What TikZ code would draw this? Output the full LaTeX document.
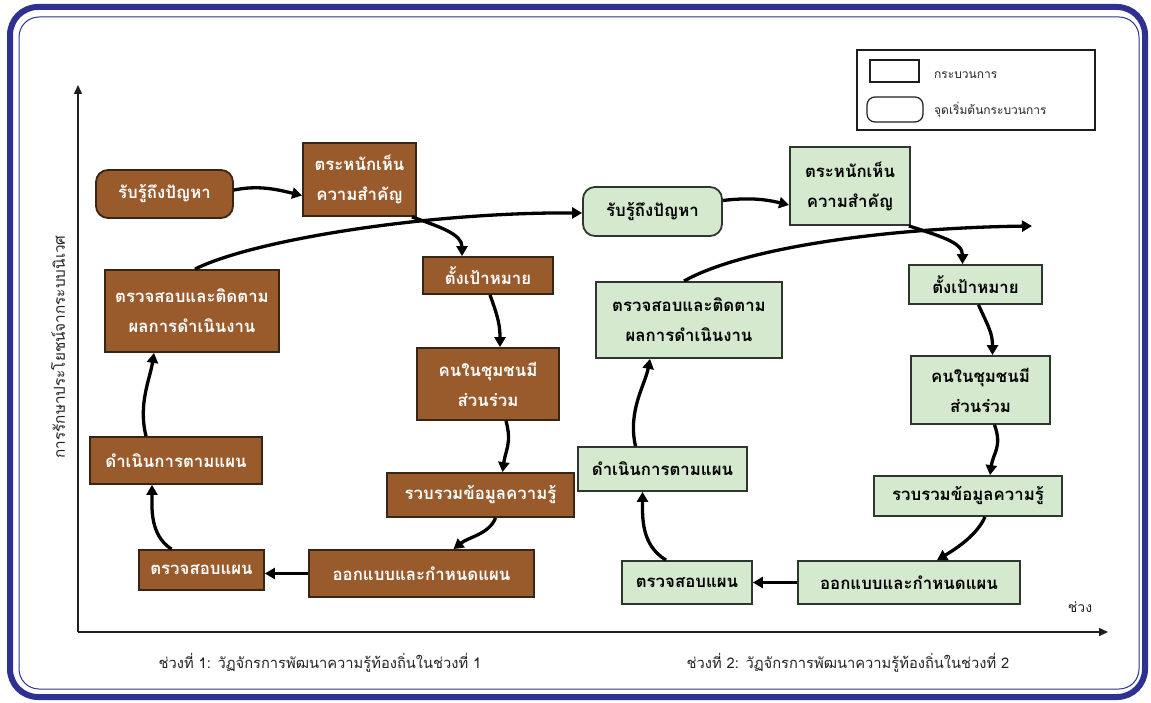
\documentclass[tikz,border=0pt]{standalone}
\usepackage{fontspec}
\newfontfamily\thaifont[Script=Thai]{Loma}
\usetikzlibrary{arrows.meta,calc}
\definecolor{navy}{RGB}{46,49,146}
\definecolor{brownfill}{RGB}{153,90,44}
\definecolor{browndraw}{RGB}{55,38,22}
\definecolor{greenfill}{RGB}{213,233,207}
\definecolor{greendraw}{RGB}{45,55,45}
\definecolor{axisc}{RGB}{30,30,30}
\definecolor{labelc}{RGB}{35,35,35}
\begin{document}
\begin{tikzpicture}[x=1pt,y=-1pt,
  boxfont/.style={font=\thaifont\bfseries\fontsize{16.8}{30}\selectfont},
  bbox/.style={boxfont, draw=browndraw, line width=1.8pt, fill=brownfill, text=white, align=center, inner sep=0pt},
  gbox/.style={boxfont, draw=greendraw, line width=1.8pt, fill=greenfill, text=black, align=center, inner sep=0pt},
  flow/.style={line width=3.3pt, -{Triangle[length=10pt,width=11pt]}},
  axisline/.style={draw=axisc, line width=1.5pt, -{Triangle[length=9pt,width=8pt]}},
  legtext/.style={font=\thaifont\fontsize{12}{14}\selectfont, text=labelc, anchor=west, inner sep=0pt},
  caption/.style={font=\thaifont\fontsize{14.7}{17}\selectfont, text=labelc, inner sep=0pt}
]
\useasboundingbox (0,0) rectangle (1151,703);
\fill[white] (0,0) rectangle (1151,703);
% frame
\draw[navy, line width=6pt, rounded corners=28] (10,7) rectangle (1145,697);
\draw[navy, line width=1pt, rounded corners=20] (19,17) rectangle (1139,689);

% axes
\coordinate (o) at (78,632);
\coordinate (ytop) at (78,85);
\coordinate (xend) at (1108,632);
\draw[axisline] (o) -- (ytop);
\draw[axisline] (o) -- (xend);
\node[font=\thaifont\fontsize{15.3}{17}\selectfont, text=labelc, rotate=90] (ylab) at (58,347) {การรักษาประโยชน์จากระบบนิเวศ};
\node[font=\thaifont\fontsize{14}{16}\selectfont, text=labelc] (xlab) at (1080,607) {ช่วง};

% legend
\node[draw=axisc, fill=white, line width=1.2pt, minimum width=238, minimum height=80, inner sep=0pt] (leg) at (976,90) {};
\node[draw=axisc, fill=white, line width=1.2pt, minimum width=49, minimum height=22, inner sep=0pt] (legrect) at (894.5,71) {};
\node[draw=axisc, fill=white, line width=1.2pt, minimum width=56, minimum height=25, inner sep=0pt, rounded corners=8] (leground) at (895,109.5) {};
\node[legtext] (legt1) at (934,75) {กระบวนการ};
\node[legtext] (legt2) at (934,110) {จุดเริ่มต้นกระบวนการ};

% brown cycle
\node[bbox, minimum width=137, minimum height=48, rounded corners=12] (b1) at (164.5,194) {รับรู้ถึงปัญหา};
\node[bbox, minimum width=113, minimum height=73] (b2) at (359.5,179.5) {ตระหนักเห็น\\ความสำคัญ};
\node[bbox, minimum width=130, minimum height=37] (b3) at (488,275.5) {ตั้งเป้าหมาย};
\node[bbox, minimum width=142, minimum height=72] (b4) at (488,384) {คนในชุมชนมี\\ส่วนร่วม};
\node[bbox, minimum width=187, minimum height=44] (b5) at (480.5,495) {รวบรวมข้อมูลความรู้};
\node[bbox, minimum width=225, minimum height=47] (b6) at (421.5,573.5) {ออกแบบและกำหนดแผน};
\node[bbox, minimum width=125, minimum height=40] (b7) at (201.5,570) {ตรวจสอบแผน};
\node[bbox, minimum width=172, minimum height=47] (b8) at (176,460.5) {ดำเนินการตามแผน};
\node[bbox, minimum width=174, minimum height=82] (b9) at (192,311) {ตรวจสอบและติดตาม\\ผลการดำเนินงาน};

% green cycle
\node[gbox, minimum width=139, minimum height=49, rounded corners=12] (g1) at (652.5,211.5) {รับรู้ถึงปัญหา};
\node[gbox, minimum width=120, minimum height=78] (g2) at (850,186) {ตระหนักเห็น\\ความสำคัญ};
\node[gbox, minimum width=133, minimum height=39] (g3) at (975.5,284.5) {ตั้งเป้าหมาย};
\node[gbox, minimum width=139, minimum height=68] (g4) at (980.5,390) {คนในชุมชนมี\\ส่วนร่วม};
\node[gbox, minimum width=188, minimum height=40] (g5) at (968,496) {รวบรวมข้อมูลความรู้};
\node[gbox, minimum width=222, minimum height=43] (g6) at (909,582.5) {ออกแบบและกำหนดแผน};
\node[gbox, minimum width=130, minimum height=43] (g7) at (687,582.5) {ตรวจสอบแผน};
\node[gbox, minimum width=169, minimum height=44] (g8) at (662.5,469) {ดำเนินการตามแผน};
\node[gbox, minimum width=186, minimum height=76] (g9) at (689,320) {ตรวจสอบและติดตาม\\ผลการดำเนินงาน};
\coordinate (gend) at (1032,226);

% brown arrows
\draw[flow] ($(b1.east)+(0,-4)$) .. controls +(25,-5) and +(-25,-6) .. ($(b2.west)+(0,16)$);
\draw[flow] ($(b2.south east)+(-5,0)$) .. controls +(28,10) and +(0,-22) .. ($(b3.north)+(-26,0)$);
\draw[flow] ($(b3.south)+(2,0)$) .. controls +(8,22) and +(0,-22) .. ($(b4.north)+(12,0)$);
\draw[flow] ($(b4.south)+(18,0)$) .. controls +(6,22) and +(3,-22) .. ($(b5.north)+(22,0)$);
\draw[flow] ($(b5.south)+(15,0)$) .. controls +(-6,16) and +(15,-12) .. ($(b6.north)+(32,0)$);
\draw[flow] (b6.west) -- (b6.west -| b7.east);
\draw[flow] ($(b7.north)+(-30,0)$) .. controls +(-22,-14) and +(0,22) .. ($(b8.south)+(-24,0)$);
\draw[flow] ($(b8.north)+(-30,0)$) .. controls +(-8,-32) and +(-4,26) .. ($(b9.south)+(-38,0)$);
\draw[flow] ($(b9.north)+(3,0)$) .. controls +(60,-30) and +(-150,-1) .. ($(g1.west)+(0,1.5)$);

% green arrows
\draw[flow] ($(g1.east)+(0,-11)$) .. controls +(25,-3) and +(-25,-6) .. ($(g2.west)+(0,19)$);
\draw[flow] ($(g2.south east)+(-2,0)$) .. controls +(30,10) and +(0,-22) .. ($(g3.north)+(-13,0)$);
\draw[flow] ($(g3.south)+(3,0)$) .. controls +(10,22) and +(0,-22) .. ($(g4.north)+(12,0)$);
\draw[flow] ($(g4.south)+(14,0)$) .. controls +(8,22) and +(3,-22) .. ($(g5.north)+(22,0)$);
\draw[flow] ($(g5.south)+(17,0)$) .. controls +(-8,18) and +(20,-12) .. ($(g6.north)+(28,0)$);
\draw[flow] (g6.west) -- (g6.west -| g7.east);
\draw[flow] ($(g7.north)+(-21,0)$) .. controls +(-25,-15) and +(0,25) .. ($(g8.south)+(-20,0)$);
\draw[flow] ($(g8.north)+(-27,0)$) .. controls +(-8,-35) and +(-5,26) .. ($(g9.south)+(-39,0)$);
\draw[flow] ($(g9.north)+(-5,0)$) .. controls +(56,-32) and +(-152,2) .. (gend);

% captions
\node[caption] (cap1) at (320,663) {ช่วงที่ 1: วัฏจักรการพัฒนาความรู้ท้องถิ่นในช่วงที่ 1};
\node[caption] (cap2) at (848,663) {ช่วงที่ 2: วัฏจักรการพัฒนาความรู้ท้องถิ่นในช่วงที่ 2};
\end{tikzpicture}
\end{document}
